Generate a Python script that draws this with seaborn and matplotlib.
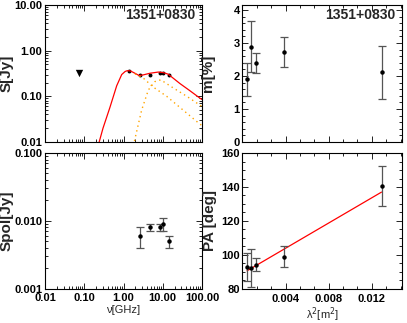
import matplotlib
matplotlib.use("Agg")
import matplotlib.pyplot as plt
from matplotlib.ticker import FormatStrFormatter, MultipleLocator, FixedLocator, LogLocator, NullFormatter
import numpy as np
import seaborn as sns

SOURCE = "1351+0830"

# total flux density data [GHz, Jy]
freq = [1.4, 2.64, 4.85, 8.35, 10.45, 14.6]
flux = [0.36, 0.29, 0.30, 0.33, 0.32, 0.29]
limit_freq = [0.074]
limit_flux = [0.32]

# model curves
fit_freq = [0.24, 0.30, 0.45, 0.67, 0.90, 1.10, 1.25, 1.50, 1.96, 2.5, 3.2, 4.7, 7.7, 10.5, 13.8, 27.5, 49.0, 89.0, 100.0]
fit_flux = [0.010, 0.020, 0.057, 0.170, 0.30, 0.35, 0.365, 0.36, 0.32, 0.285, 0.295, 0.32, 0.34, 0.33, 0.305, 0.19, 0.133, 0.091, 0.085]
comp1_freq = [1.96, 3.2, 5.7, 12.6, 33.0, 89.0, 100.0]
comp1_flux = [0.31, 0.25, 0.16, 0.10, 0.050, 0.0245, 0.023]
comp2_freq = [1.9, 2.9, 4.3, 6.3, 8.9, 17.0, 41.0, 89.0, 100.0]
comp2_flux = [0.0105, 0.050, 0.138, 0.21, 0.23, 0.16, 0.10, 0.064, 0.060]

# polarised flux density [Jy]
pol_freq = [2.64, 4.85, 8.35, 10.45, 14.6]
pol_flux = [0.0060, 0.0081, 0.0081, 0.0091, 0.0050]
pol_lo = [0.0040, 0.0071, 0.0071, 0.0071, 0.0040]
pol_hi = [0.0080, 0.0091, 0.0091, 0.0111, 0.0060]

# polarisation fraction and angle vs lambda^2
lam2 = [0.00042, 0.00082, 0.00129, 0.00382, 0.0129]
m_pct = [1.90, 2.89, 2.40, 2.72, 2.11]
m_err = [0.50, 0.78, 0.30, 0.46, 0.80]
pa_deg = [92.9, 92.3, 94.3, 99.0, 140.6]
pa_err = [8.0, 11.0, 3.7, 6.3, 12.0]
rm_lam2 = [0.00042, 0.0129]
rm_pa = [90.7, 137.0]

sns.set_style("ticks")
plt.rcParams["font.family"] = ["Liberation Sans", "DejaVu Sans"]
plt.rcParams["mathtext.fontset"] = "dejavusans"

YLAB_FONT = dict(fontsize=11, fontweight="bold")
ERR_KW = dict(fmt="o", ms=2.2, color="black", ecolor="#555555", elinewidth=0.9, capsize=3, capthick=0.9)


def style_axes(ax):
    ax.tick_params(which="both", direction="in", top=True, right=True, width=0.6, colors="black")
    ax.tick_params(which="major", length=4, pad=2)
    ax.tick_params(which="minor", length=2)
    ax.tick_params(axis="x", which="major", pad=3.5)
    for s in ax.spines.values():
        s.set_linewidth(0.8)
        s.set_color("black")
    for lab in ax.get_xticklabels() + ax.get_yticklabels():
        lab.set_fontsize(8)
        lab.set_fontweight("bold")


def log_freq_axis(ax):
    ax.set_xscale("log")
    ax.set_xlim(0.01, 100)
    ax.xaxis.set_major_locator(FixedLocator([0.01, 0.1, 1, 10, 100]))
    ax.xaxis.set_minor_locator(LogLocator(base=10, subs=np.arange(2, 10), numticks=20))
    ax.xaxis.set_minor_formatter(NullFormatter())


def main():
    fig = plt.figure(figsize=(4.07, 3.23), dpi=100)
    ax_s = fig.add_axes([0.1106, 0.5604, 0.3857, 0.4241])
    ax_p = fig.add_axes([0.1106, 0.1068, 0.3857, 0.4195])
    ax_m = fig.add_axes([0.5958, 0.5604, 0.3919, 0.4241])
    ax_a = fig.add_axes([0.5958, 0.1053, 0.3919, 0.4210])

    # total flux
    sns.lineplot(x=fit_freq, y=fit_flux, ax=ax_s, color="red", lw=0.9, sort=False)
    sns.lineplot(x=comp1_freq, y=comp1_flux, ax=ax_s, color="orange", lw=1.0, ls=(0, (1, 2.5)), sort=False)
    sns.lineplot(x=comp2_freq, y=comp2_flux, ax=ax_s, color="orange", lw=1.0, ls=(0, (1, 2.5)), sort=False)
    sns.scatterplot(x=freq, y=flux, ax=ax_s, color="black", s=8, marker="o", linewidth=0)
    sns.scatterplot(x=limit_freq, y=limit_flux, ax=ax_s, color="black", s=28, marker="v", linewidth=0)
    log_freq_axis(ax_s)
    ax_s.set_yscale("log")
    ax_s.set_ylim(0.01, 10)
    ax_s.yaxis.set_major_locator(FixedLocator([0.01, 0.1, 1, 10]))
    ax_s.yaxis.set_major_formatter(FormatStrFormatter("%.2f"))
    ax_s.yaxis.set_minor_locator(LogLocator(base=10, subs=np.arange(2, 10), numticks=20))
    ax_s.yaxis.set_minor_formatter(NullFormatter())
    ax_s.set_xticklabels([])
    ax_s.set_ylabel("S[Jy]", **YLAB_FONT)
    ax_s.yaxis.set_label_coords(-0.20, 0.5)
    ax_s.text(0.96, 0.93, SOURCE, transform=ax_s.transAxes, ha="right", va="center",
              fontsize=10, fontweight="bold")

    # polarised flux
    p_lo = np.array(pol_flux) - np.array(pol_lo)
    p_hi = np.array(pol_hi) - np.array(pol_flux)
    ax_p.errorbar(pol_freq, pol_flux, yerr=[p_lo, p_hi], **ERR_KW)
    log_freq_axis(ax_p)
    ax_p.xaxis.set_major_formatter(FormatStrFormatter("%.2f"))
    ax_p.set_yscale("log")
    ax_p.set_ylim(0.001, 0.1)
    ax_p.yaxis.set_major_locator(FixedLocator([0.001, 0.01, 0.1]))
    ax_p.yaxis.set_major_formatter(FormatStrFormatter("%.3f"))
    ax_p.yaxis.set_minor_locator(LogLocator(base=10, subs=np.arange(2, 10), numticks=20))
    ax_p.yaxis.set_minor_formatter(NullFormatter())
    ax_p.set_ylabel("Spol[Jy]", **YLAB_FONT)
    ax_p.yaxis.set_label_coords(-0.20, 0.5)
    ax_p.set_xlabel("ν[GHz]", fontsize=8, labelpad=1)

    # fractional polarisation
    ax_m.errorbar(lam2, m_pct, yerr=m_err, **ERR_KW)
    ax_m.set_xlim(0, 0.0148)
    ax_m.set_ylim(0, 4.15)
    ax_m.xaxis.set_major_locator(FixedLocator([0.004, 0.008, 0.012]))
    ax_m.xaxis.set_minor_locator(MultipleLocator(0.004 / 3))
    ax_m.set_xticklabels([])
    ax_m.yaxis.set_major_locator(MultipleLocator(1))
    ax_m.yaxis.set_minor_locator(MultipleLocator(0.2))
    ax_m.yaxis.set_major_formatter(FormatStrFormatter("%d"))
    ax_m.set_ylabel("m[%]", **YLAB_FONT)
    ax_m.yaxis.set_label_coords(-0.17, 0.5)
    ax_m.text(0.96, 0.93, SOURCE, transform=ax_m.transAxes, ha="right", va="center",
              fontsize=10, fontweight="bold")

    # polarisation angle
    sns.lineplot(x=rm_lam2, y=rm_pa, ax=ax_a, color="red", lw=0.9)
    ax_a.errorbar(lam2, pa_deg, yerr=pa_err, **ERR_KW)
    ax_a.set_xlim(0, 0.0148)
    ax_a.set_ylim(80, 160)
    ax_a.xaxis.set_major_locator(FixedLocator([0.004, 0.008, 0.012]))
    ax_a.xaxis.set_minor_locator(MultipleLocator(0.004 / 3))
    ax_a.xaxis.set_major_formatter(FormatStrFormatter("%.3f"))
    ax_a.yaxis.set_major_locator(MultipleLocator(20))
    ax_a.yaxis.set_minor_locator(MultipleLocator(5))
    ax_a.yaxis.set_major_formatter(FormatStrFormatter("%d"))
    ax_a.set_ylabel("PA [deg]", **YLAB_FONT)
    ax_a.yaxis.set_label_coords(-0.16, 0.5)
    ax_a.set_xlabel("λ$^2$[m$^2$]", fontsize=8, labelpad=1)

    for ax in (ax_s, ax_p, ax_m, ax_a):
        style_axes(ax)

    fig.savefig("out.png", dpi=100)
    plt.close(fig)


if __name__ == "__main__":
    main()
